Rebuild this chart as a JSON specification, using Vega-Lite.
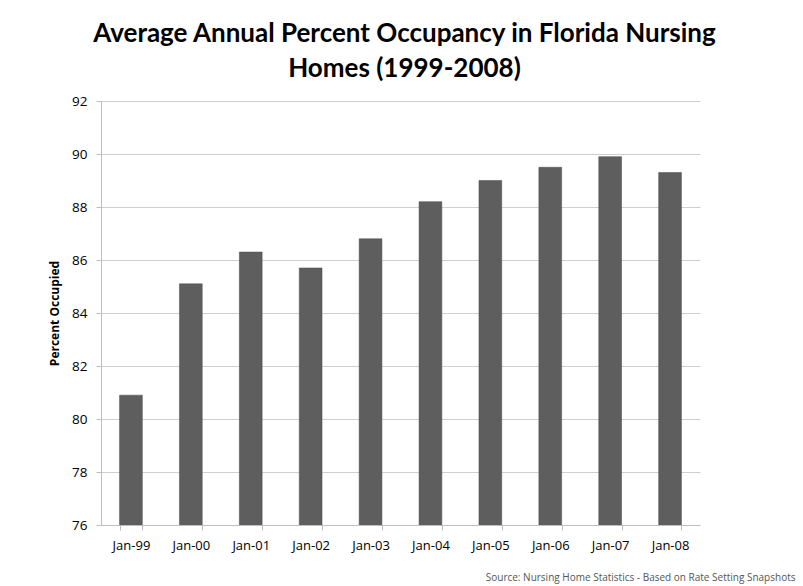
{
  "$schema": "https://vega.github.io/schema/vega-lite/v6.json",
  "width": 599,
  "height": 424,
  "autosize": "none",
  "padding": {"left": 101, "top": 101, "right": 103, "bottom": 61},
  "background": "white",
  "title": {
    "text": ["Average Annual Percent Occupancy in Florida Nursing", "Homes (1999-2008)"],
    "font": "Lato",
    "fontSize": 26,
    "fontWeight": "bold",
    "color": "#000000",
    "lineHeight": 35,
    "offset": 12,
    "anchor": "middle",
    "dx": 4
  },
  "data": {
    "values": [
      {"month": "Jan-99", "pct": 80.9},
      {"month": "Jan-00", "pct": 85.1},
      {"month": "Jan-01", "pct": 86.3},
      {"month": "Jan-02", "pct": 85.7},
      {"month": "Jan-03", "pct": 86.8},
      {"month": "Jan-04", "pct": 88.2},
      {"month": "Jan-05", "pct": 89.0},
      {"month": "Jan-06", "pct": 89.5},
      {"month": "Jan-07", "pct": 89.9},
      {"month": "Jan-08", "pct": 89.3}
    ]
  },
  "mark": {"type": "bar", "color": "#5e5e5e", "stroke": "#4a4a4a", "strokeWidth": 0.5, "clip": true},
  "encoding": {
    "x": {
      "field": "month",
      "type": "ordinal",
      "sort": null,
      "scale": {"paddingInner": 0.62, "paddingOuter": 0.31},
      "axis": {
        "title": "Source: Nursing Home Statistics - Based on Rate Setting Snapshots",
        "titleFont": "Open Sans",
        "titleFontSize": 10,
        "titleFontWeight": "normal",
        "titleColor": "#555555",
        "titleAnchor": "end",
        "titleAlign": "right",
        "titleBaseline": "alphabetic",
        "titleX": 694,
        "titleY": 55,
        "labelAngle": 0,
        "labelFont": "Open Sans",
        "labelFontSize": 13,
        "labelColor": "#000000",
        "labelPadding": 9,
        "tickBand": "extent",
        "tickSize": 5,
        "tickColor": "#bdbdbd",
        "domainColor": "#bdbdbd"
      }
    },
    "y": {
      "field": "pct",
      "type": "quantitative",
      "scale": {"domain": [76, 92], "zero": false, "nice": false},
      "axis": {
        "title": "Percent Occupied",
        "titleFont": "Open Sans",
        "titleFontSize": 12,
        "titleFontWeight": "bold",
        "titleColor": "#000000",
        "titlePadding": 10,
        "values": [76, 78, 80, 82, 84, 86, 88, 90, 92],
        "labelFont": "Open Sans",
        "labelFontSize": 13.5,
        "labelColor": "#000000",
        "labelPadding": 9,
        "tickSize": 5,
        "tickColor": "#bdbdbd",
        "domainColor": "#bdbdbd",
        "grid": true,
        "gridColor": "#cfcfcf"
      }
    }
  },
  "config": {"view": {"stroke": null}}
}
